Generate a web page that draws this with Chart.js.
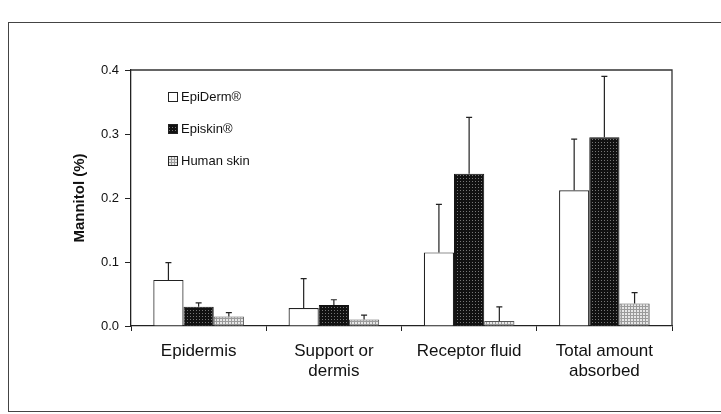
<!DOCTYPE html>
<html>
<head>
<meta charset="utf-8">
<script src="https://cdn.jsdelivr.net/npm/chart.js@4.4.0/dist/chart.umd.min.js"></script>
<style>
  html, body { margin: 0; padding: 0; background: #fff; overflow: hidden; }
  #wrap { position: relative; width: 721px; height: 414px; overflow: hidden; }
  #frame { position: absolute; left: 8px; top: 22px; width: 760px; height: 388px; border: 1.5px solid #444; }
  canvas { position: absolute; left: 0; top: 0; }
</style>
</head>
<body>
<div id="wrap">
  <div id="frame"></div>
  <canvas id="chart" width="721" height="414"></canvas>
</div>
<script>
// chart data
const categories = ['Epidermis', ['Support or', 'dermis'], 'Receptor fluid', ['Total amount', 'absorbed']];
const seriesNames = ['EpiDerm®', 'Episkin®', 'Human skin'];
const epiDermValues = [0.072, 0.028, 0.115, 0.212];
const epiDermErrors = [0.027, 0.046, 0.075, 0.080];
const episkinValues = [0.030, 0.033, 0.238, 0.295];
const episkinErrors = [0.006, 0.008, 0.088, 0.095];
const humanValues = [0.015, 0.010, 0.008, 0.035];
const humanErrors = [0.006, 0.007, 0.022, 0.017];
const yTicks = [0, 0.1, 0.2, 0.3, 0.4];

// fill patterns for the scanned look
function makePattern(bg, dot, step, grid) {
  const c = document.createElement('canvas');
  c.width = step; c.height = step;
  const g = c.getContext('2d');
  g.fillStyle = bg;
  g.fillRect(0, 0, step, step);
  g.fillStyle = dot;
  if (grid) {
    g.fillRect(0, 0, step, 1);
    g.fillRect(0, 0, 1, step);
  } else {
    g.fillRect(1, 1, 1, 1);
  }
  return g.createPattern(c, 'repeat');
}
const ctx = document.getElementById('chart').getContext('2d');
const episkinFill = makePattern('#111', '#777', 3, false);
const humanFill = makePattern('#e6e6e6', '#9a9a9a', 3, true);

const errorSets = [epiDermErrors, episkinErrors, humanErrors];
const fontFamily = '"Liberation Sans", Arial, sans-serif';

// upper error bars + plot frame + legend
const extras = {
  id: 'extras',
  afterDatasetsDraw(chart) {
    const c = chart.ctx;
    const y = chart.scales.y;
    const area = chart.chartArea;
    c.save();
    c.strokeStyle = '#222';
    c.lineWidth = 1.2;
    chart.data.datasets.forEach((ds, i) => {
      const meta = chart.getDatasetMeta(i);
      meta.data.forEach((bar, j) => {
        const top = y.getPixelForValue(ds.data[j] + errorSets[i][j]);
        c.beginPath();
        c.moveTo(bar.x, bar.y);
        c.lineTo(bar.x, top);
        c.moveTo(bar.x - 3, top);
        c.lineTo(bar.x + 3, top);
        c.stroke();
      });
    });
    // top and right frame of the plot
    c.strokeStyle = '#333';
    c.lineWidth = 1.3;
    c.beginPath();
    c.moveTo(area.left, area.top);
    c.lineTo(area.right, area.top);
    c.lineTo(area.right, area.bottom);
    c.stroke();
    // legend
    c.font = '13px ' + fontFamily;
    c.textBaseline = 'middle';
    chart.data.datasets.forEach((ds, i) => {
      const lx = area.left + 37;
      const ly = area.top + 27 + i * 32;
      c.fillStyle = ds.backgroundColor;
      c.fillRect(lx, ly - 5, 10, 10);
      c.strokeStyle = '#222';
      c.lineWidth = 1;
      c.strokeRect(lx + 0.5, ly - 4.5, 9, 9);
      c.fillStyle = '#111';
      c.fillText(ds.label, lx + 13, ly);
    });
    c.restore();
  }
};

new Chart(ctx, {
  type: 'bar',
  data: {
    labels: categories,
    datasets: [
      { label: seriesNames[0], data: epiDermValues, backgroundColor: '#ffffff', borderColor: '#222', borderWidth: 1.2 },
      { label: seriesNames[1], data: episkinValues, backgroundColor: episkinFill, borderColor: '#111', borderWidth: 1 },
      { label: seriesNames[2], data: humanValues, backgroundColor: humanFill, borderColor: '#555', borderWidth: 1 }
    ]
  },
  options: {
    responsive: false,
    animation: false,
    layout: { padding: { top: 70, right: 49, left: 71, bottom: 0 } },
    datasets: { bar: { categoryPercentage: 0.67, barPercentage: 1.0 } },
    plugins: { legend: { display: false }, tooltip: { enabled: false } },
    scales: {
      x: {
        afterFit: s => { s.height = 88; },
        grid: { display: true, offset: true, drawOnChartArea: false, tickLength: 5, color: '#222' },
        border: { display: true, color: '#222', width: 1.3 },
        ticks: { color: '#111', padding: 10, font: { family: fontFamily, size: 17, lineHeight: 1.2 } }
      },
      y: {
        min: 0,
        max: 0.4,
        afterFit: s => { s.width = 60; },
        afterBuildTicks: s => { s.ticks = yTicks.map(v => ({ value: v })); },
        grid: { display: true, drawOnChartArea: false, tickLength: 6, color: '#222' },
        border: { display: true, color: '#222', width: 1.3 },
        ticks: {
          color: '#111',
          padding: 6,
          font: { family: fontFamily, size: 13 },
          callback: v => v.toFixed(1)
        },
        title: {
          display: true,
          text: 'Mannitol (%)',
          color: '#111',
          padding: { top: 0, bottom: 8 },
          font: { family: fontFamily, size: 15, weight: 'bold' }
        }
      }
    }
  },
  plugins: [extras]
});
</script>
</body>
</html>
